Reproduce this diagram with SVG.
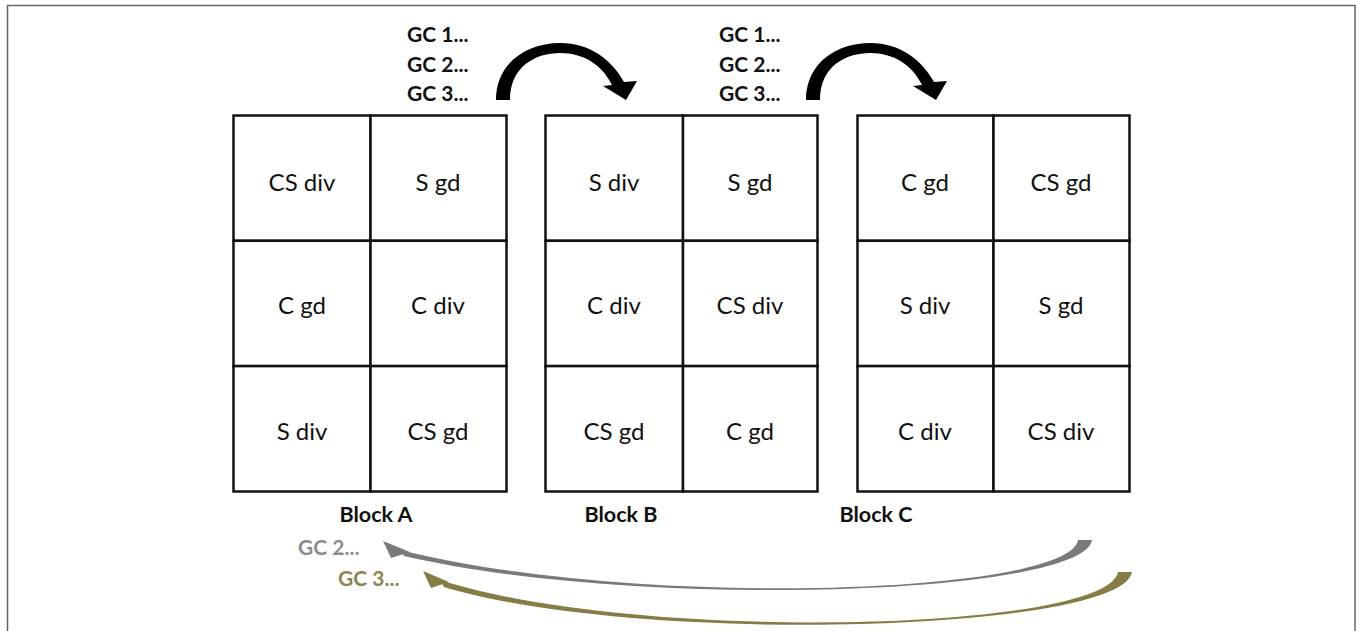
<svg xmlns="http://www.w3.org/2000/svg" width="1357" height="631" viewBox="0 0 1357 631">
<style>
.cell{fill:#fff;stroke:#111;stroke-width:2.5}
.ct{font-family:Lato,"Liberation Sans",sans-serif;font-size:24px;fill:#111;text-anchor:middle}
.bl{font-family:Lato,"Liberation Sans",sans-serif;font-size:21.5px;font-weight:bold;fill:#111;text-anchor:middle}
.gc{font-family:Lato,"Liberation Sans",sans-serif;font-size:21px;font-weight:bold;fill:#111}
</style>
<rect x="0" y="0" width="1357" height="631" fill="#fff"/>
<rect x="7.5" y="5.5" width="1347.5" height="700" fill="none" stroke="#666" stroke-width="1.5"/>

<g id="blockA">
<rect class="cell" x="233.5" y="115.5" width="137" height="125.3"/>
<rect class="cell" x="370.5" y="115.5" width="136" height="125.3"/>
<rect class="cell" x="233.5" y="240.8" width="137" height="125.3"/>
<rect class="cell" x="370.5" y="240.8" width="136" height="125.3"/>
<rect class="cell" x="233.5" y="366.1" width="137" height="125.4"/>
<rect class="cell" x="370.5" y="366.1" width="136" height="125.4"/>
<text class="ct" x="302" y="191">CS div</text>
<text class="ct" x="438" y="191">S gd</text>
<text class="ct" x="302" y="314">C gd</text>
<text class="ct" x="438" y="314">C div</text>
<text class="ct" x="302" y="440">S div</text>
<text class="ct" x="438" y="440">CS gd</text>
<text class="bl" x="376" y="522">Block A</text>
</g>

<g id="blockB">
<rect class="cell" x="545.5" y="115.5" width="137.5" height="125.3"/>
<rect class="cell" x="683" y="115.5" width="134.5" height="125.3"/>
<rect class="cell" x="545.5" y="240.8" width="137.5" height="125.3"/>
<rect class="cell" x="683" y="240.8" width="134.5" height="125.3"/>
<rect class="cell" x="545.5" y="366.1" width="137.5" height="125.4"/>
<rect class="cell" x="683" y="366.1" width="134.5" height="125.4"/>
<text class="ct" x="614" y="191">S div</text>
<text class="ct" x="750" y="191">S gd</text>
<text class="ct" x="614" y="314">C div</text>
<text class="ct" x="750" y="314">CS div</text>
<text class="ct" x="614" y="440">CS gd</text>
<text class="ct" x="750" y="440">C gd</text>
<text class="bl" x="621" y="522">Block B</text>
</g>

<g id="blockC">
<rect class="cell" x="857.5" y="115.5" width="136" height="125.3"/>
<rect class="cell" x="993.5" y="115.5" width="136" height="125.3"/>
<rect class="cell" x="857.5" y="240.8" width="136" height="125.3"/>
<rect class="cell" x="993.5" y="240.8" width="136" height="125.3"/>
<rect class="cell" x="857.5" y="366.1" width="136" height="125.4"/>
<rect class="cell" x="993.5" y="366.1" width="136" height="125.4"/>
<text class="ct" x="925" y="191">C gd</text>
<text class="ct" x="1061" y="191">CS gd</text>
<text class="ct" x="925" y="314">S div</text>
<text class="ct" x="1061" y="314">S gd</text>
<text class="ct" x="925" y="440">C div</text>
<text class="ct" x="1061" y="440">CS div</text>
<text class="bl" x="876" y="522">Block C</text>
</g>

<g id="labels">
<text class="gc" x="407" y="42">GC 1...</text>
<text class="gc" x="407" y="72">GC 2...</text>
<text class="gc" x="407" y="101">GC 3...</text>
<text class="gc" x="719" y="42">GC 1...</text>
<text class="gc" x="719" y="72">GC 2...</text>
<text class="gc" x="719" y="101">GC 3...</text>
<text class="gc" x="298" y="555" style="fill:#8c8c8c">GC 2...</text>
<text class="gc" x="338" y="586" style="fill:#8f8550">GC 3...</text>
</g>

<g id="connectors">
<path d="M 496 100 C 496 62 528 43 560 43 C 590 43 612 60 624 82 L 637 81 L 626 100 L 603 86 L 612 85 C 602 65 584 53 560 53 C 536 53 510 66 510 100 Z" fill="#000"/>
<path d="M 806 100 C 806 62 838 43 870 43 C 900 43 922 60 934 82 L 947 81 L 936 100 L 913 86 L 922 85 C 912 65 894 53 870 53 C 846 53 820 66 820 100 Z" fill="#000"/>
<path d="M 1092 540 C 1084 595 640 611 404 556 L 400 550 C 640 610 1070 594 1078 540 Z" fill="#7a7a7a"/>
<path d="M 383 541 L 410 552 L 391 558 Z" fill="#7a7a7a"/>
<path d="M 1132 572 C 1122 632 640 646 444 587 L 440 580 C 640 644 1108 631 1118 572 Z" fill="#857d45"/>
<path d="M 423 571 L 449 582 L 431 588 Z" fill="#857d45"/>
</g>
</svg>
